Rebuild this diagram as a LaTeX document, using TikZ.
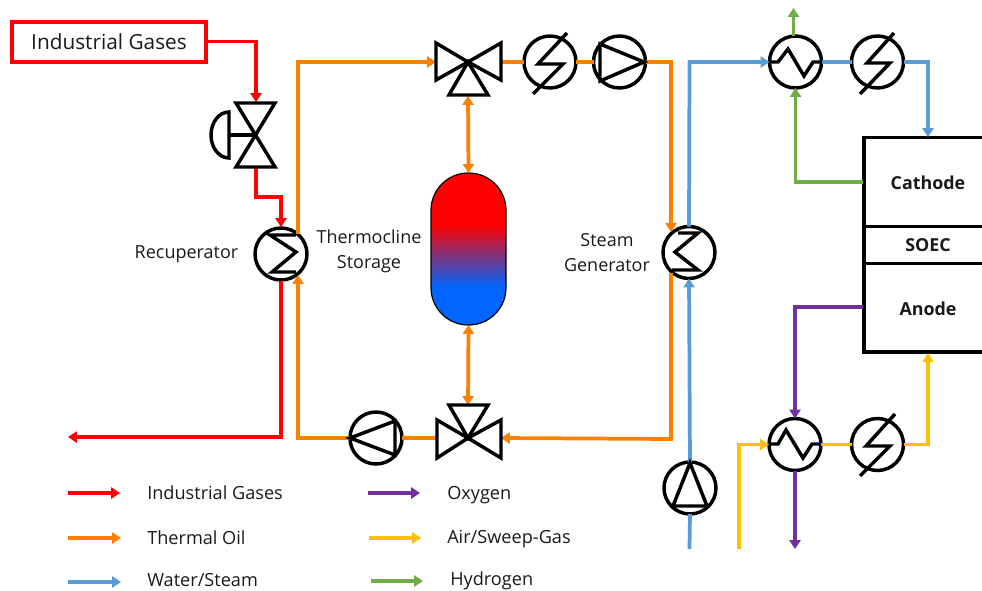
\documentclass[tikz,border=0pt]{standalone}
\usepackage{fontspec}
\setmainfont{Open Sans}
\usetikzlibrary{arrows.meta}
\definecolor{cRed}{HTML}{FF0000}
\definecolor{cOrange}{HTML}{FF8000}
\definecolor{cBlue}{HTML}{5B9BD5}
\definecolor{cPurple}{HTML}{7030A0}
\definecolor{cYellow}{HTML}{FFC000}
\definecolor{cGreen}{HTML}{70AD47}
\definecolor{cTxt}{HTML}{1A1A1A}
\definecolor{tankBlue}{HTML}{0066FF}
\pgfdeclareverticalshading{tankshade}{100bp}{color(0bp)=(tankBlue); color(37.5bp)=(tankBlue); color(58bp)=(red); color(100bp)=(red)}
\tikzset{
  flow/.style={line width=2.8pt,line join=miter,-{Triangle[width=8.2pt,length=6.6pt]}},
  plain/.style={line width=2.8pt,line join=miter},
  both/.style={line width=2.8pt,{Triangle[width=8.2pt,length=6.6pt]}-{Triangle[width=8.2pt,length=6.6pt]}},
  ring/.style={circle,draw=black,line width=2.6pt,minimum size=39pt,inner sep=0pt,outer sep=0pt},
  sym/.style={draw=black,line width=2.6pt,line join=miter},
  lbl/.style={text=cTxt,font=\fontsize{13.5pt}{15pt}\selectfont,align=center,inner sep=0pt},
  leg/.style={text=cTxt,font=\fontsize{13.6pt}{15pt}\selectfont,anchor=west,inner sep=0pt},
  cell/.style={text=cTxt,font=\fontsize{13.4pt}{15pt}\selectfont\bfseries,inner sep=0pt}
}
\begin{document}
\begin{tikzpicture}[x=0.75pt,y=-0.75pt]
\clip (0,0) rectangle (982,590);
\fill[white] (0,0) rectangle (982,590);
% equipment rings
\node[ring] (rec) at (281,254) {};
\node[ring] (sg) at (689,252.5) {};
\node[ring] (h1) at (550,62) {};
\node[ring] (p1) at (619.5,62) {};
\node[ring] (p2) at (376,438) {};
\node[ring] (p3) at (690,488) {};
\node[ring] (hx1) at (795.5,62) {};
\node[ring] (h2) at (877.5,62) {};
\node[ring] (hx2) at (795,444.5) {};
\node[ring] (h3) at (877.5,444.5) {};
% box, tank
\node[draw=cRed,line width=3pt,minimum width=145pt,minimum height=30pt,inner sep=0pt,outer sep=0pt,
  font=\fontsize{15.6pt}{17pt}\selectfont,text=cTxt] (gasbox) at (109,41.5) {Industrial Gases};
\node[draw=black,line width=0.9pt,minimum width=56.25pt,minimum height=114pt,rounded corners=28pt,
  shade,shading=tankshade,inner sep=0pt,outer sep=0pt] (tank) at (468.5,249) {};
% SOEC
\node[draw=black,line width=2.8pt,minimum width=100pt,minimum height=161pt,inner sep=0pt,outer sep=0pt,anchor=north west] (soec) at (864,137.5) {};
\draw[black,line width=2.8pt] (864,226.5) coordinate (s1) -- (990,226.5);
\draw[black,line width=2.8pt] (864,263.5) coordinate (s2) -- (990,263.5);
\node[cell] at (928,183) {Cathode};
\node[cell] at (928,245) {SOEC};
\node[cell] at (928,309) {Anode};
% valve coordinates
\coordinate (v1c) at (256,135);
\coordinate (v1t) at (256,102);
\coordinate (v1b) at (256,167);
\coordinate (tvc) at (468,62);
\coordinate (tvl) at (436,62);
\coordinate (tvr) at (501,62);
\coordinate (tvb) at (468,96);
\coordinate (bvc) at (468,438);
\coordinate (bvl) at (437,438);
\coordinate (bvr) at (501,438);
\coordinate (bvt) at (468,405);
% corners and free ends
\coordinate (c1) at (256,41.5);
\coordinate (c2) at (256,197);
\coordinate (c3) at (281,197);
\coordinate (recin) at (281,227);
\coordinate (recout) at (281,281);
\coordinate (c4) at (281,437);
\coordinate (gasout) at (68,437);
\coordinate (c5) at (298,438);
\coordinate (recoilb) at (298,275);
\coordinate (recoilt) at (298,234);
\coordinate (c6) at (298,62);
\coordinate (c7) at (671,62);
\coordinate (sgoilt) at (671,232);
\coordinate (sgoilb) at (671,273);
\coordinate (c8) at (671,439);
\coordinate (w0) at (689.5,549);
\coordinate (c9) at (689.5,62);
\coordinate (c10) at (928,62);
\coordinate (soect) at (928,137);
\coordinate (h2up) at (793.5,8);
\coordinate (c11) at (795.5,182);
\coordinate (cath) at (863,182);
\coordinate (an) at (863,307);
\coordinate (c12) at (795,307);
\coordinate (o2out) at (795,549);
\coordinate (air0) at (739,549);
\coordinate (c13) at (739,444.5);
\coordinate (c14) at (928,444.5);
\coordinate (soecb) at (928,353);
\coordinate (hx1top) at (793.5,36);
% connectors
\draw[flow,cRed] (gasbox.east) -- (c1) -- (v1t);
\draw[flow,cRed] (v1b) -- (c2) -- (c3) -- (recin);
\draw[flow,cRed] (recout) -- (c4) -- (gasout);
\draw[flow,cOrange] (p2.west) -- (c5) -- (recoilb);
\draw[flow,cOrange] (recoilt) -- (c6) -- (tvl);
\draw[plain,cOrange] (tvr) -- (h1.west);
\draw[plain,cOrange] (h1.east) -- (p1.west);
\draw[flow,cOrange] (p1.east) -- (c7) -- (sgoilt);
\draw[flow,cOrange] (sgoilb) -- (c8) -- (bvr);
\draw[plain,cOrange] (bvl) -- (p2.east);
\draw[both,cOrange] (tvb) -- (tank.north);
\draw[both,cOrange] (tank.south) -- (bvt);
\draw[plain,cBlue] (w0) -- (p3.south);
\draw[flow,cBlue] (p3.north) -- (sg.south);
\draw[flow,cBlue] (sg.north) -- (c9) -- (hx1.west);
\draw[plain,cBlue] (hx1.east) -- (h2.west);
\draw[flow,cBlue] (h2.east) -- (c10) -- (soect);
\draw[flow,cGreen] (hx1top) -- (h2up);
\draw[flow,cGreen] (cath) -- (c11) -- (hx1.south);
\draw[flow,cPurple] (an) -- (c12) -- (hx2.north);
\draw[flow,cPurple] (hx2.south) -- (o2out);
\draw[flow,cYellow] (air0) -- (c13) -- (hx2.west);
\draw[plain,cYellow] (hx2.east) -- (h3.west);
\draw[flow,cYellow] (h3.east) -- (c14) -- (soecb);
% control valve
\draw[sym] (236,103) -- (275,103) -- (236,167) -- (275,167) -- cycle;
\draw[sym] (v1c) -- (229,135);
\draw[sym] (229,112) arc[start angle=270,end angle=90,x radius=18,y radius=23] -- cycle;
% three-way valves
\draw[sym] (tvc) -- (436,43) -- (436,80) -- cycle;
\draw[sym] (tvc) -- (501,43) -- (501,80) -- cycle;
\draw[sym] (tvc) -- (449,95) -- (488,95) -- cycle;
\draw[sym] (bvc) -- (437,420) -- (437,458) -- cycle;
\draw[sym] (bvc) -- (501,420) -- (501,458) -- cycle;
\draw[sym] (bvc) -- (449,405) -- (488,405) -- cycle;
% exchangers
\draw[sym] (296,235) -- (270,235) -- (296,252) -- (272,272) -- (296,272);
\draw[sym] (678,233) -- (698,233) -- (675,252) -- (698,270) -- (672,270);
\draw[sym] (769,62) -- (778,62) -- (788,49) -- (804,76) -- (813,62) -- (822,62);
\draw[sym] (769,444) -- (778,444) -- (786,430) -- (803,458) -- (812,444) -- (821,444);
% heaters
\draw[sym] (567,33) -- (538,64) -- (563,64) -- (533,94);
\draw[sym] (894,33) -- (867,63) -- (890,63) -- (860,94);
\draw[sym] (895,414) -- (866,446) -- (890,446) -- (860,476);
% pumps
\draw[sym] (600,44) -- (644,62) -- (600,81) -- cycle;
\draw[sym] (350,438) -- (395,421) -- (395,455) -- cycle;
\draw[sym] (690,463) -- (673,506) -- (707,506) -- cycle;
% labels
\node[lbl] at (186.5,254) {Recuperator};
\node[lbl] at (369,236.5) {Thermocline};
\node[lbl] at (369,264) {Storage};
\node[lbl] at (607,240) {Steam};
\node[lbl] at (607,265) {Generator};
% legend
\foreach \n/\xa/\xb/\y/\c in {a/68/120/493/cRed,b/68/121/538/cOrange,c/68/121/582/cBlue,d/368/420/493/cPurple,e/369/421/538/cYellow,f/371/423/581/cGreen}{
  \coordinate (l\n a) at (\xa,\y);
  \coordinate (l\n b) at (\xb,\y);
  \draw[flow,\c] (l\n a) -- (l\n b);
}
\node[leg] (t1) at (147,493) {Industrial Gases};
\node[leg] (t2) at (147,538) {Thermal Oil};
\node[leg] (t3) at (147,580) {Water/Steam};
\node[leg] (t4) at (447,495) {Oxygen};
\node[leg] (t5) at (447,539.5) {Air/Sweep-Gas};
\node[leg] (t6) at (450,581) {Hydrogen};
\end{tikzpicture}
\end{document}
